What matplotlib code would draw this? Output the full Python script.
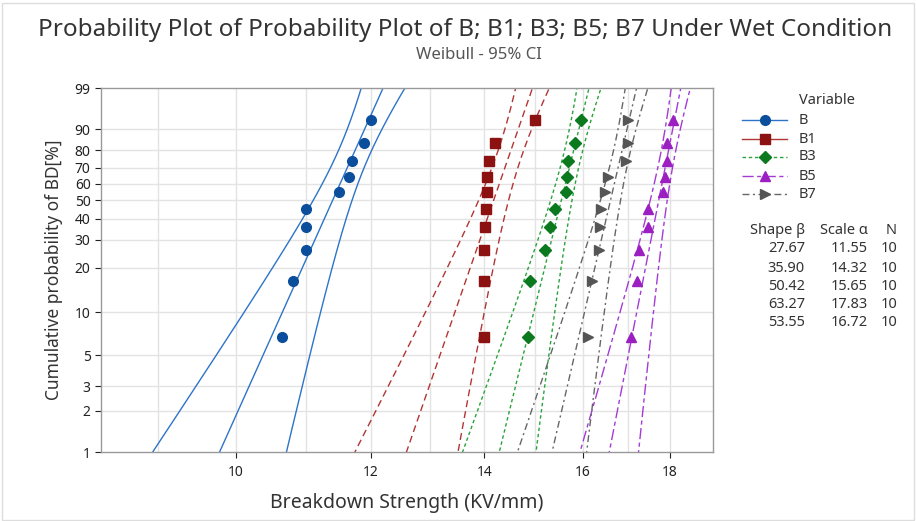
import numpy as np
import matplotlib
matplotlib.use("Agg")
import matplotlib.pyplot as plt
from matplotlib.lines import Line2D
from matplotlib.patches import Rectangle
from matplotlib.ticker import FixedLocator, FixedFormatter, NullLocator

plt.rcParams['font.family'] = ['Noto Sans', 'DejaVu Sans']

# breakdown strength (KV/mm), sorted, 10 specimens per variable
variables = ['B', 'B1', 'B3', 'B5', 'B7']
bd_B = [10.65, 10.8, 11.0, 11.0, 11.0, 11.5, 11.65, 11.7, 11.9, 12.0]
bd_B1 = [14.0, 14.0, 14.0, 14.02, 14.03, 14.05, 14.05, 14.08, 14.2, 15.0]
bd_B3 = [14.85, 14.9, 15.2, 15.3, 15.4, 15.63, 15.66, 15.68, 15.83, 15.96]
bd_B5 = [17.07, 17.22, 17.26, 17.48, 17.48, 17.84, 17.88, 17.93, 17.93, 18.08]
bd_B7 = [16.1, 16.2, 16.35, 16.38, 16.39, 16.48, 16.56, 16.97, 17.0, 17.01]

# median-rank plotting positions (%)
ranks = [6.7, 16.3, 26.0, 35.6, 45.2, 54.8, 64.4, 74.0, 83.7, 93.3]

# Weibull fits
shape = [27.67, 35.90, 50.42, 63.27, 53.55]
scale = [11.55, 14.32, 15.65, 17.83, 16.72]
n_obs = [10, 10, 10, 10, 10]

data = [bd_B, bd_B1, bd_B3, bd_B5, bd_B7]
marker_col = ['#0b4f9c', '#8c1111', '#0b7a1e', '#9b1fc1', '#555555']
line_col = ['#2d74c8', '#b23535', '#2aa33a', '#a43bd4', '#666666']
markers = ['o', 's', 'D', '^', '>']
msizes = [7, 7.5, 6.5, 7.5, 7.5]
dashes = [None, (5, 3), (2.5, 2), (8, 2.5, 3, 2.5), (5, 2.5, 1.5, 2.5)]
legend_dashes = [None, None, (2.5, 2), (8, 2.5, 3, 2.5), (5, 2.5, 1.5, 2.5)]

TXT = '#333333'


def weib(p):
    p = np.asarray(p, dtype=float)
    with np.errstate(all='ignore'):
        return np.log(-np.log(1 - p / 100.0))


def weib_inv(w):
    w = np.asarray(w, dtype=float)
    with np.errstate(all='ignore'):
        return 100.0 * (1 - np.exp(-np.exp(w)))


fig = plt.figure(figsize=(9.16, 5.21), dpi=100)
ax = fig.add_axes([101 / 916, 1 - 452 / 521, 612 / 916, 364 / 521])

ax.set_xscale('log')
ax.set_yscale('function', functions=(weib, weib_inv))

w_grid = np.linspace(-5.5, 2.2, 300)
p_grid = weib_inv(w_grid)
z = 1.96
for i in range(len(variables)):
    u = np.log(scale[i])
    b = 1.0 / shape[i]
    n = n_obs[i]
    # asymptotic covariance of (u, b) for the smallest extreme value MLE
    var_y = b ** 2 / n * (1.1087 + 0.6079 * w_grid ** 2 - 2 * 0.2570 * w_grid)
    y_fit = u + w_grid * b
    se = np.sqrt(var_y)
    for y in (y_fit - z * se, y_fit, y_fit + z * se):
        ln, = ax.plot(np.exp(y), p_grid, color=line_col[i], lw=1.0)
        if dashes[i] is not None:
            ln.set_dashes(dashes[i])
    ax.plot(data[i], ranks, linestyle='none', marker=markers[i], ms=msizes[i],
            color=marker_col[i], mec=marker_col[i], zorder=5)

ax.set_xlim(8.33, 19.08)
ax.set_ylim(1, 99)

xticks = [10, 12, 14, 16, 18]
ax.xaxis.set_major_locator(FixedLocator(xticks))
ax.xaxis.set_major_formatter(FixedFormatter([str(t) for t in xticks]))
ax.xaxis.set_minor_locator(NullLocator())
xgrid = [9, 10, 11, 12, 13, 14, 15, 16, 17, 18]
for g in xgrid:
    ax.axvline(g, color='#e3e3e3', lw=1.0, zorder=0)

yticks = [1, 2, 3, 5, 10, 20, 30, 40, 50, 60, 70, 80, 90, 99]
ax.yaxis.set_major_locator(FixedLocator(yticks))
ax.yaxis.set_major_formatter(FixedFormatter([str(t) for t in yticks]))
ax.yaxis.set_minor_locator(NullLocator())
for g in yticks[1:-1]:
    ax.axhline(g, color='#e3e3e3', lw=1.0, zorder=0)

ax.tick_params(axis='both', colors='#222222', labelsize=10, length=4, width=0.8)
ax.tick_params(axis='x', pad=5)
for s in ax.spines.values():
    s.set_color('#999999')
    s.set_linewidth(1.0)

ax.set_xlabel('Breakdown Strength (KV/mm)', fontsize=14, color=TXT, labelpad=10)
ax.set_ylabel('Cumulative probability of BD[%]', fontsize=12.5, color=TXT, labelpad=8)

fig.text(0.508, 1 - 30 / 521, 'Probability Plot of Probability Plot of B; B1; B3; B5; B7 Under Wet Condition',
         ha='center', va='center', fontsize=17.5, color=TXT, fontweight='medium')
fig.text(0.523, 1 - 55 / 521, 'Weibull - 95% CI', ha='center', va='center',
         fontsize=12, color='#555555')

# legend
fig.text(799 / 916, 1 - 101 / 521, 'Variable', ha='left', va='center', fontsize=10.5, color=TXT)
leg_y = [120, 139, 157, 176, 194]
for i, name in enumerate(variables):
    yf = 1 - leg_y[i] / 521
    ln = Line2D([742 / 916, 787 / 916], [yf, yf], transform=fig.transFigure,
                color=line_col[i], lw=1.0)
    if legend_dashes[i] is not None:
        ln.set_dashes(legend_dashes[i])
    fig.add_artist(ln)
    fig.add_artist(Line2D([765 / 916], [yf], transform=fig.transFigure, marker=markers[i],
                          ms=msizes[i], color=marker_col[i], linestyle='none'))
    fig.text(799 / 916, yf, name, ha='left', va='center', fontsize=10.5, color=TXT)

# parameter table
fig.text(805 / 916, 1 - 231 / 521, 'Shape β', ha='right', va='center', fontsize=10.5, color=TXT)
fig.text(868 / 916, 1 - 231 / 521, 'Scale α', ha='right', va='center', fontsize=10.5, color=TXT)
fig.text(897 / 916, 1 - 231 / 521, 'N', ha='right', va='center', fontsize=10.5, color=TXT)
row_y = [249, 268, 287, 305, 323]
for i in range(len(variables)):
    yf = 1 - row_y[i] / 521
    fig.text(805 / 916, yf, f'{shape[i]:.2f}', ha='right', va='center', fontsize=10.5, color=TXT)
    fig.text(868 / 916, yf, f'{scale[i]:.2f}', ha='right', va='center', fontsize=10.5, color=TXT)
    fig.text(897 / 916, yf, str(n_obs[i]), ha='right', va='center', fontsize=10.5, color=TXT)

fig.add_artist(Rectangle((0.002, 0.002), 0.996, 0.992, transform=fig.transFigure,
                         fill=False, edgecolor='#dddddd', lw=1.0))

fig.savefig('out.png', dpi=100)
